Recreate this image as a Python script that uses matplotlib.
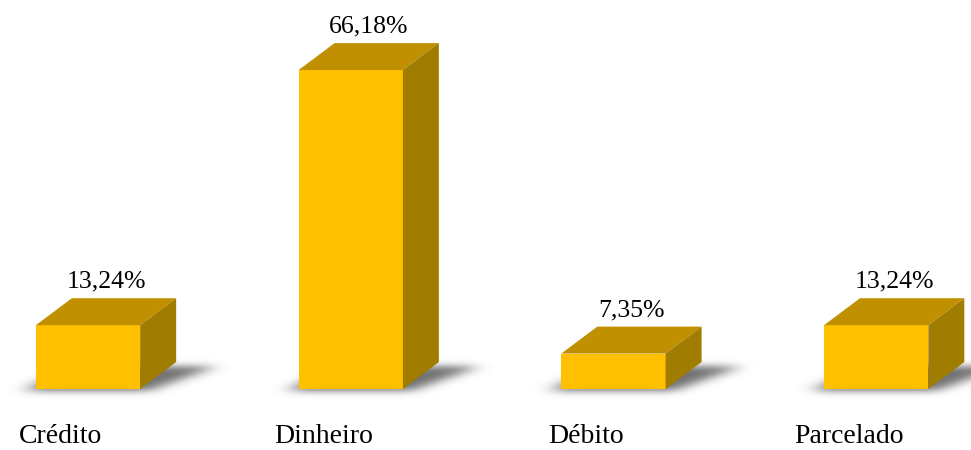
import numpy as np
import matplotlib.pyplot as plt
from matplotlib.patches import Polygon
from matplotlib.path import Path

categories = ["Crédito", "Dinheiro", "Débito", "Parcelado"]
values = [13.24, 66.18, 7.35, 13.24]
value_labels = ["13,24%", "66,18%", "7,35%", "13,24%"]

# look of the 3d bars
bar_w = 0.397
dx = 0.137   # depth in x units
dy = 5.6     # depth in y units
front_c = "#FFC000"
top_c = "#C09000"
side_c = "#A07C00"

plt.rcParams["font.family"] = ["Liberation Serif", "DejaVu Serif"]

fig = plt.figure(figsize=(9.71, 4.5), dpi=100)
ax = fig.add_axes([0, 0, 1, 1])
xlim = (-0.335, 3.361)
ylim = (-12.66, 80.72)
ax.set_xlim(*xlim)
ax.set_ylim(*ylim)
ax.axis("off")

px_x = (xlim[1] - xlim[0]) / 971   # data units per pixel
px_y = (ylim[1] - ylim[0]) / 450


def gauss_blur(img, sx, sy):
    def kern(s):
        r = int(3 * s) + 1
        t = np.arange(-r, r + 1)
        k = np.exp(-0.5 * (t / s) ** 2)
        return k / k.sum()
    kx, ky = kern(sx), kern(sy)
    img = np.apply_along_axis(lambda r: np.convolve(r, kx, mode="same"), 1, img)
    img = np.apply_along_axis(lambda c: np.convolve(c, ky, mode="same"), 0, img)
    return img


for i, v in enumerate(values):
    x0 = i - bar_w / 2
    x1 = i + bar_w / 2

    # soft floor shadow: blurred footprint of the box
    ex = (x0 - 40 * px_x, x1 + dx + 80 * px_x)
    ey = (-12 * px_y, dy + 10 * px_y)
    nx = int((ex[1] - ex[0]) / px_x)
    ny = int((ey[1] - ey[0]) / px_y)
    gx, gy = np.meshgrid(np.linspace(ex[0], ex[1], nx),
                         np.linspace(ey[0], ey[1], ny))
    foot = Path([(x0 - 12 * px_x, -2 * px_y), (x1 + 8 * px_x, -2 * px_y),
                 (x1 + dx + 40 * px_x, dy - 4 * px_y), (x0 + dx, dy - 4 * px_y)])
    mask = foot.contains_points(np.c_[gx.ravel(), gy.ravel()]).reshape(ny, nx)
    alpha = np.clip(gauss_blur(mask.astype(float), 9, 3.5) * 0.8, 0, 1)
    rgba = np.zeros((ny, nx, 4))
    rgba[..., :3] = 0.3
    rgba[..., 3] = alpha
    ax.imshow(rgba, extent=(ex[0], ex[1], ey[0], ey[1]), origin="lower",
              aspect="auto", interpolation="bilinear", zorder=1)

    ax.bar(i, v, width=bar_w, color=front_c, edgecolor="none", zorder=3)

    top = Polygon([(x0, v), (x1, v), (x1 + dx, v + dy), (x0 + dx, v + dy)],
                  closed=True, facecolor=top_c, edgecolor="none", zorder=3)
    side = Polygon([(x1, 0), (x1 + dx, dy), (x1 + dx, v + dy), (x1, v)],
                   closed=True, facecolor=side_c, edgecolor="none", zorder=3)
    ax.add_patch(top)
    ax.add_patch(side)

    ax.annotate(value_labels[i], (i + dx / 2, v + dy), xytext=(0, 4),
                textcoords="offset points", ha="center", va="bottom",
                fontsize=18.5, color="black")
    ax.text(i - 0.105, -9.9, categories[i], ha="center", va="center",
            fontsize=20, color="black")

ax.set_xlim(*xlim)
ax.set_ylim(*ylim)
fig.savefig("out.png", dpi=100)
